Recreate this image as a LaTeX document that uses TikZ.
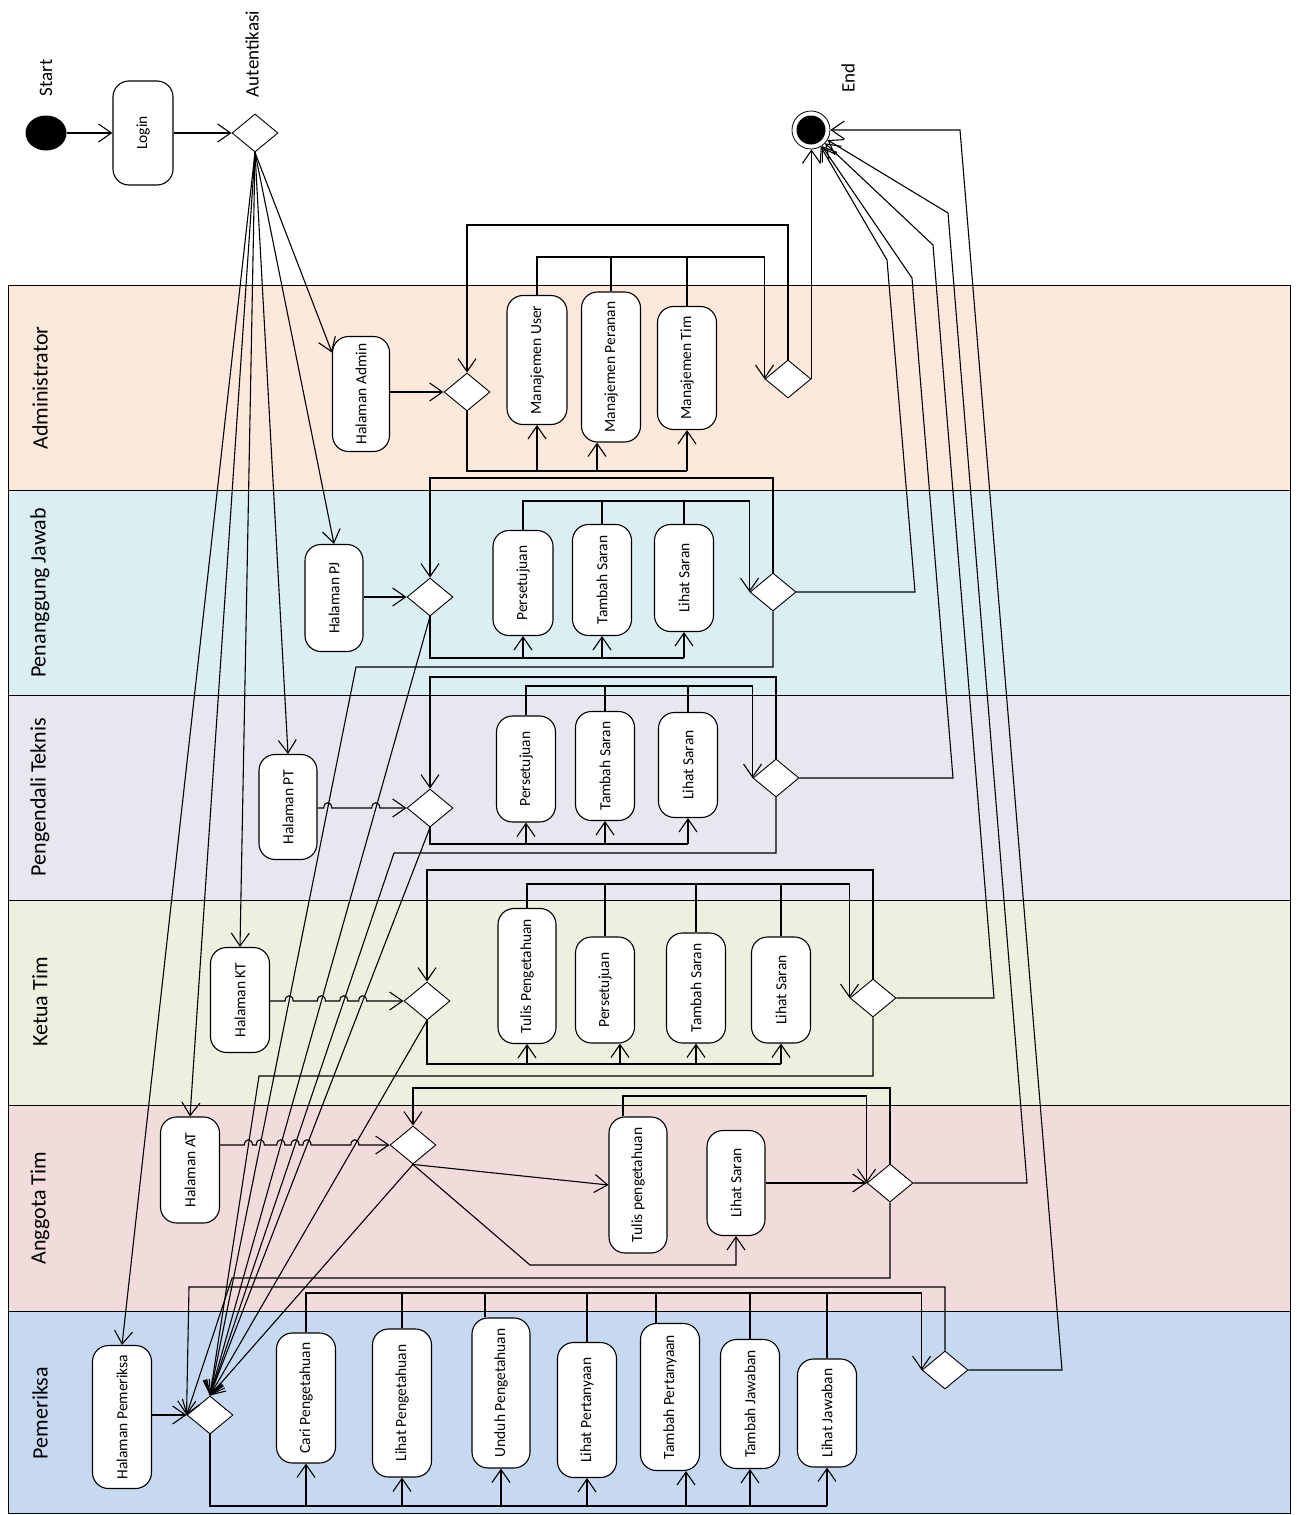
\documentclass[tikz,border=0pt]{standalone}
\usepackage{fontspec}
\setmainfont{Carlito}
\usetikzlibrary{arrows.meta,shapes.geometric,calc}
\definecolor{cadm}{HTML}{FCE9DB}
\definecolor{cpj}{HTML}{DAEEF3}
\definecolor{cpt}{HTML}{E8E6EF}
\definecolor{ckt}{HTML}{EBF1DE}
\definecolor{cat}{HTML}{F2DCDB}
\definecolor{cpm}{HTML}{C6D9F0}
\begin{document}
\begin{tikzpicture}[x=1pt,y=-1pt,
 act/.style={draw, rounded corners=16pt, fill=white, inner sep=0pt, line width=1.1pt, font=\fontsize{15.5}{18}\selectfont},
 dec/.style={draw, diamond, fill=white, minimum width=46pt, minimum height=38pt, inner sep=0pt, line width=0.9pt},
 arr/.style={-{Straight Barb[length=13pt,width=18pt]}},
 ln/.style={line width=1.1pt},
 hopat/.style 2 args={insert path={-- ({#1-4},#2) .. controls ({#1-4},{#2-7}) and ({#1+4},{#2-7}) .. ({#1+4},#2)}},
 lanelbl/.style={rotate=90, font=\fontsize{22}{26}\selectfont},
 lbl/.style={rotate=90, font=\fontsize{19}{22}\selectfont}]
\useasboundingbox (0,0) rectangle (1296,1515);
\fill[white] (0,0) rectangle (1296,1515);
% lanes
\fill[cadm] (8,285) rectangle (1290,490);
\fill[cpj] (8,490) rectangle (1290,695);
\fill[cpt] (8,695) rectangle (1290,900);
\fill[ckt] (8,900) rectangle (1290,1105);
\fill[cat] (8,1105) rectangle (1290,1311);
\fill[cpm] (8,1311) rectangle (1290,1513);
\draw[line width=1pt] (8,285) rectangle (1290,1513);
\foreach \yy in {490,695,900,1105,1311} \draw[line width=1pt] (8,\yy) -- (1290,\yy);
\node[lanelbl] (ladm) at (40,388) {Administrator};
\node[lanelbl] (lpj) at (40,593) {Penanggung Jawab};
\node[lanelbl] (lpt) at (40,797) {Pengendali Teknis};
\node[lanelbl] (lkt) at (40,1002) {Ketua Tim};
\node[lanelbl] (lat) at (40,1208) {Anggota Tim};
\node[lanelbl] (lpm) at (40,1413) {Pemeriksa};
% top nodes
\node[ellipse, fill=black, minimum width=41pt, minimum height=35pt, inner sep=0pt] (start) at (46,133) {};
\node[lbl] (startlbl) at (46,78) {Start};
\node[act, minimum width=60pt, minimum height=104pt] (login) at (143,133) {\rotatebox{90}{Login}};
\node[dec] (auth) at (255,133) {};
\node[lbl] (authlbl) at (252,54) {Autentikasi};
\node[circle, draw, line width=0.8pt, minimum size=38pt, inner sep=0pt] (endn) at (811,130) {};
\node[circle, fill=black, minimum size=29pt, inner sep=0pt] (endin) at (endn) {};
\node[lbl] (endlbl) at (848,78) {End};
% admin
\node[act, minimum width=57pt, minimum height=115pt] (hadmin) at (361,394) {\rotatebox{90}{Halaman Admin}};
\node[dec] (ad1) at (467,392) {};
\node[act, minimum width=60pt, minimum height=129pt] (mu) at (537,360) {\rotatebox{90}{Manajemen User}};
\node[act, minimum width=59pt, minimum height=150pt] (mp) at (611,367) {\rotatebox{90}{Manajemen Peranan}};
\node[act, minimum width=59pt, minimum height=123pt] (mt) at (687,368) {\rotatebox{90}{Manajemen Tim}};
\node[dec] (ad2) at (788,379) {};
% PJ
\node[act, minimum width=58pt, minimum height=107pt] (hpj) at (334,598) {\rotatebox{90}{Halaman PJ}};
\node[dec] (pj1) at (430,597) {};
\node[act, minimum width=60pt, minimum height=105pt] (pjp) at (523,583) {\rotatebox{90}{Persetujuan}};
\node[act, minimum width=59pt, minimum height=111pt] (pjt) at (602,580) {\rotatebox{90}{Tambah Saran}};
\node[act, minimum width=59pt, minimum height=107pt] (pjl) at (684,578) {\rotatebox{90}{Lihat Saran}};
\node[dec] (pj2) at (773,592) {};
% PT
\node[act, minimum width=58pt, minimum height=105pt] (hpt) at (288,807) {\rotatebox{90}{Halaman PT}};
\node[dec] (pt1) at (430,808) {};
\node[act, minimum width=59pt, minimum height=106pt] (ptp) at (526,769) {\rotatebox{90}{Persetujuan}};
\node[act, minimum width=59pt, minimum height=109pt] (ptt) at (605,766) {\rotatebox{90}{Tambah Saran}};
\node[act, minimum width=59pt, minimum height=105pt] (ptl) at (688,765) {\rotatebox{90}{Lihat Saran}};
\node[dec] (pt2) at (776,778) {};
% KT
\node[act, minimum width=59pt, minimum height=105pt] (hkt) at (240,1000) {\rotatebox{90}{Halaman KT}};
\node[dec] (kt1) at (427,1001) {};
\node[act, minimum width=58pt, minimum height=135pt] (ktw) at (527,976) {\rotatebox{90}{Tulis Pengetahuan}};
\node[act, minimum width=59pt, minimum height=106pt] (ktp) at (605,990) {\rotatebox{90}{Persetujuan}};
\node[act, minimum width=59pt, minimum height=110pt] (ktt) at (696,988) {\rotatebox{90}{Tambah Saran}};
\node[act, minimum width=59pt, minimum height=106pt] (ktl) at (781,990) {\rotatebox{90}{Lihat Saran}};
\node[dec] (kt2) at (873,998) {};
% AT
\node[act, minimum width=59pt, minimum height=106pt] (hat) at (190,1170) {\rotatebox{90}{Halaman AT}};
\node[dec] (at1) at (413,1145) {};
\node[act, minimum width=58pt, minimum height=136pt] (atw) at (638,1185) {\rotatebox{90}{Tulis pengetahuan}};
\node[act, minimum width=58pt, minimum height=105pt] (atl) at (736,1183) {\rotatebox{90}{Lihat Saran}};
\node[dec] (at2) at (890,1183) {};
% PM
\node[act, minimum width=59pt, minimum height=143pt] (hpm) at (122,1417) {\rotatebox{90}{Halaman Pemeriksa}};
\node[dec] (pm1) at (210,1415) {};
\node[act, minimum width=59pt, minimum height=130pt] (pmc) at (306,1398) {\rotatebox{90}{Cari Pengetahuan}};
\node[act, minimum width=59pt, minimum height=148pt] (pmlp) at (402,1403) {\rotatebox{90}{Lihat Pengetahuan}};
\node[act, minimum width=58pt, minimum height=150pt] (pmu) at (501,1393) {\rotatebox{90}{Unduh Pengetahuan}};
\node[act, minimum width=59pt, minimum height=135pt] (pmlt) at (587,1410) {\rotatebox{90}{Lihat Pertanyaan}};
\node[act, minimum width=59pt, minimum height=147pt] (pmtp) at (670,1397) {\rotatebox{90}{Tambah Pertanyaan}};
\node[act, minimum width=59pt, minimum height=129pt] (pmtj) at (750,1404) {\rotatebox{90}{Tambah Jawaban}};
\node[act, minimum width=59pt, minimum height=108pt] (pmlj) at (827,1413) {\rotatebox{90}{Lihat Jawaban}};
\node[dec] (pm2) at (945,1370) {};
% ---- connectors
\draw[ln,arr] (start) -- (login);
\draw[ln,arr] (login) -- (auth);
\draw[ln,arr] (auth.south) -- (hadmin.125);
\draw[ln,arr] (auth.south) -- (hpj.north);
\draw[ln,arr] (auth.south) -- (hpt.north);
\draw[ln,arr] (auth.south) -- (hkt.north);
\draw[ln,arr] (auth.south) -- (hat.north);
\draw[ln,arr] (auth.south) -- (hpm.north);
% admin
\draw[ln,arr] (hadmin.east |- ad1) -- (ad1.west);
\draw[ln] (ad1.south) -- (ad1.south |- 0,471) -- (mt.south |- 0,471);
\draw[ln,arr] (mu.south |- 0,471) -- (mu.south);
\draw[ln,arr] (597,471) -- (mp.south -| 597,0);
\draw[ln,arr] (mt.south |- 0,471) -- (mt.south);
\draw[ln,arr] (mu.north) -- (mu.north |- 0,257) -| (ad2.west);
\draw[ln] (mp.north) -- (mp.north |- 0,257);
\draw[ln] (mt.north) -- (mt.north |- 0,257);
\draw[ln,arr] (ad2.north) -- (ad2.north |- 0,225) -| (ad1.north);
\draw[ln,arr] (ad2.east) -- (ad2.east |- endn.south);
% PJ
\draw[ln,arr] (hpj.east |- pj1) -- (pj1.west);
\draw[ln] (pj1.south) -- (pj1.south |- 0,658) -- (pjl.south |- 0,658);
\draw[ln,arr] (pjp.south |- 0,658) -- (pjp.south);
\draw[ln,arr] (pjt.south |- 0,658) -- (pjt.south);
\draw[ln,arr] (pjl.south |- 0,658) -- (pjl.south);
\draw[ln,arr] (pjp.north) -- (pjp.north |- 0,501) -| (pj2.west);
\draw[ln] (pjt.north) -- (pjt.north |- 0,501);
\draw[ln] (pjl.north) -- (pjl.north |- 0,501);
\draw[ln,arr] (pj2.north) -- (pj2.north |- 0,478) -| (pj1.north);
\draw[ln,arr] (pj1.south) -- (pm1.north);
\draw[ln,arr] (pj2.south) -- (pj2.south |- 0,667) -- (356,667) -- (pm1.north);
\draw[ln,arr] (pj2.east) -- (pj2.east -| 915,0) -- (887,260) -- (endn);
% PT
\draw[ln,arr] (hpt.east |- pt1) [hopat={327.8}{808}] [hopat={375.8}{808}] -- (pt1.west);
\draw[ln] (pt1.south) -- (pt1.south |- 0,844) -- (ptl.south |- 0,844);
\draw[ln,arr] (ptp.south |- 0,844) -- (ptp.south);
\draw[ln,arr] (ptt.south |- 0,844) -- (ptt.south);
\draw[ln,arr] (ptl.south |- 0,844) -- (ptl.south);
\draw[ln,arr] (ptp.north) -- (ptp.north |- 0,686) -| (pt2.west);
\draw[ln] (ptt.north) -- (ptt.north |- 0,686);
\draw[ln] (ptl.north) -- (ptl.north |- 0,686);
\draw[ln,arr] (pt2.north) -- (pt2.north |- 0,677) -| (pt1.north);
\draw[ln,arr] (pt1.south) -- (pm1.north);
\draw[ln,arr] (pt2.south) -- (pt2.south |- 0,853) -- (394,853) -- (pm1.north);
\draw[ln,arr] (pt2.east) -- (pt2.east -| 953,0) -- (912,278) -- (endn);
% KT
\draw[ln,arr] (hkt.east |- kt1) [hopat={289.1}{1001}] [hopat={321.4}{1001}] [hopat={343.8}{1001}] [hopat={362.7}{1001}] -- (kt1.west);
\draw[ln] (kt1.south) -- (kt1.south |- 0,1064) -- (ktl.south |- 0,1064);
\draw[ln,arr] (ktw.south |- 0,1064) -- (ktw.south);
\draw[ln,arr] (620,1064) -- (ktp.south -| 620,0);
\draw[ln,arr] (ktt.south |- 0,1064) -- (ktt.south);
\draw[ln,arr] (ktl.south |- 0,1064) -- (ktl.south);
\draw[ln,arr] (ktw.north) -- (ktw.north |- 0,884) -| (kt2.west);
\draw[ln] (ktp.north) -- (ktp.north |- 0,884);
\draw[ln] (ktt.north) -- (ktt.north |- 0,884);
\draw[ln] (ktl.north) -- (ktl.north |- 0,884);
\draw[ln,arr] (kt2.north) -- (kt2.north |- 0,870) -| (kt1.north);
\draw[ln,arr] (kt1.south) -- (pm1.north);
\draw[ln,arr] (kt2.south) -- (kt2.south |- 0,1076) -- (259,1076) -- (pm1.north);
\draw[ln,arr] (kt2.east) -- (kt2.east -| 994,0) -- (933,245) -- (endn);
% AT
\draw[ln,arr] (hat.east |- at1) [hopat={248.4}{1145}] [hopat={260.3}{1145}] [hopat={280.8}{1145}] [hopat={295.1}{1145}] [hopat={307}{1145}] [hopat={354.9}{1145}] -- (at1.west);
\draw[ln,arr] (at1.south) -- (atw.west);
\draw[ln,arr] (at1.south) -- (530,1265) -- (atl.south |- 0,1265) -- (atl.south);
\draw[ln,arr] (atw.north -| 623,0) -- (623,1096) -| (at2.west);
\draw[ln,arr] (atl.east) -- (at2.west);
\draw[ln,arr] (at2.north) -- (at2.north |- 0,1088) -| (at1.north);
\draw[ln,arr] (at1.south) -- (pm1.north);
\draw[ln,arr] (at2.south) -- (at2.south |- 0,1278) -- (232,1278) -- (pm1.west);
\draw[ln,arr] (at2.east) -- (at2.east -| 1027,0) -- (948,213) -- (endn);
% PM
\draw[ln,arr] (hpm.east |- pm1) -- (pm1.west);
\draw[ln] (pm1.south) -- (pm1.south |- 0,1506) -- (pmlj.south |- 0,1506);
\draw[ln,arr] (pmc.south |- 0,1506) -- (pmc.south);
\draw[ln,arr] (pmlp.south |- 0,1506) -- (pmlp.south);
\draw[ln,arr] (pmu.south |- 0,1506) -- (pmu.south);
\draw[ln,arr] (pmlt.south |- 0,1506) -- (pmlt.south);
\draw[ln,arr] (686,1506) -- (pmtp.south -| 686,0);
\draw[ln,arr] (pmtj.south |- 0,1506) -- (pmtj.south);
\draw[ln,arr] (pmlj.south |- 0,1506) -- (pmlj.south);
\draw[ln,arr] (pmc.north) -- (pmc.north |- 0,1293) -| (pm2.west);
\draw[ln] (pmlp.north) -- (pmlp.north |- 0,1293);
\draw[ln] (pmu.north -| 485,0) -- (485,1293);
\draw[ln] (pmlt.north) -- (pmlt.north |- 0,1293);
\draw[ln] (pmtp.north -| 656,0) -- (656,1293);
\draw[ln] (pmtj.north) -- (pmtj.north |- 0,1293);
\draw[ln] (pmlj.north) -- (pmlj.north |- 0,1293);
\draw[ln,arr] (pm2.north) -- (pm2.north |- 0,1287) -- (189,1287) -- (pm1.west);
\draw[ln,arr] (pm2.east) -- (pm2.east -| 1062,0) -- (960,130) -- (endn);
\end{tikzpicture}
\end{document}
